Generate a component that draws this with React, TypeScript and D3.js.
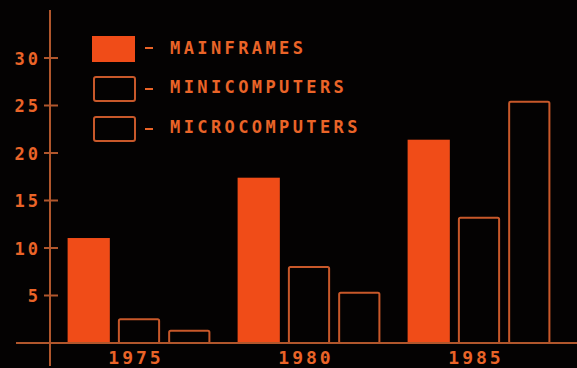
import React from "react";
import * as d3 from "d3";

const years = ["1975", "1980", "1985"];
const seriesNames = ["MAINFRAMES", "MINICOMPUTERS", "MICROCOMPUTERS"];
const mainframes = [11.05, 17.4, 21.4];
const minicomputers = [2.6, 8.1, 13.3];
const microcomputers = [1.4, 5.4, 25.5];
const yTicks = [5, 10, 15, 20, 25, 30];

const W = 577;
const H = 368;
const FILL = "#f04c18";
const STROKE = "#c8582a";
const TEXT = "#ea6428";
const AXIS = "#b0562c";
const FONT = "'DejaVu Sans Mono', monospace";

export default function App() {
  const values = [mainframes, minicomputers, microcomputers];
  const y = d3.scaleLinear().domain([0, 30]).range([343, 58]);
  const x0 = d3.scaleBand<string>().domain(years).range([54, 564]).paddingInner(0.16).paddingOuter(0.08);
  const x1 = d3.scaleBand<string>().domain(seriesNames).range([0, x0.bandwidth()]).paddingInner(0.16).paddingOuter(0);

  const legendY = [36, 77, 117];
  const legendTextY = [54, 93, 133];

  return (
    <svg width={W} height={H} style={{ position: "absolute", left: 0, top: 0, background: "#040202" }}>
      <rect x={0} y={0} width={W} height={H} fill="#040202" />
      {/* bars */}
      {years.map((yr, i) => (
        <g key={yr} transform={`translate(${x0(yr)},0)`}>
          {seriesNames.map((s, j) => {
            const v = values[j][i];
            const bx = x1(s)!;
            const top = y(v);
            return j === 0 ? (
              <rect key={s} x={bx} y={top} width={x1.bandwidth()} height={y(0) - top} fill={FILL} />
            ) : (
              <rect key={s} x={bx + 1} y={top + 1} width={x1.bandwidth() - 2} height={y(0) - top - 1} fill="none" stroke={STROKE} strokeWidth={2} rx={1.5} />
            );
          })}
        </g>
      ))}
      {/* y axis */}
      <line x1={50} y1={10} x2={50} y2={366} stroke={AXIS} strokeWidth={2} />
      {yTicks.map((t) => (
        <g key={t}>
          <line x1={44} x2={58} y1={y(t)} y2={y(t)} stroke={AXIS} strokeWidth={2} />
          <text x={41} y={y(t) + 6.5} textAnchor="end" fill={TEXT} fontFamily={FONT} fontWeight="bold" fontSize={17} letterSpacing={3}>
            {t}
          </text>
        </g>
      ))}
      {/* x axis */}
      <line x1={16} y1={y(0)} x2={W} y2={y(0)} stroke={AXIS} strokeWidth={2} />
      {years.map((yr) => (
        <text key={yr} x={x0(yr)! + x0.bandwidth() / 2 - 3} y={364} textAnchor="middle" fill={TEXT} fontFamily={FONT} fontWeight="bold" fontSize={18} letterSpacing={3}>
          {yr}
        </text>
      ))}
      {/* legend */}
      {seriesNames.map((s, j) => (
        <g key={s}>
          {j === 0 ? (
            <rect x={92} y={legendY[j]} width={43} height={26} fill={FILL} />
          ) : (
            <rect x={94} y={legendY[j]} width={41} height={24} fill="none" stroke={STROKE} strokeWidth={2} rx={2} />
          )}
          <line x1={145} x2={153} y1={legendY[j] + 12} y2={legendY[j] + 12} stroke={TEXT} strokeWidth={2} />
          <text x={170} y={legendTextY[j]} fill={TEXT} fontFamily={FONT} fontWeight="bold" fontSize={17} letterSpacing={3.4}>
            {s}
          </text>
        </g>
      ))}
    </svg>
  );
}
